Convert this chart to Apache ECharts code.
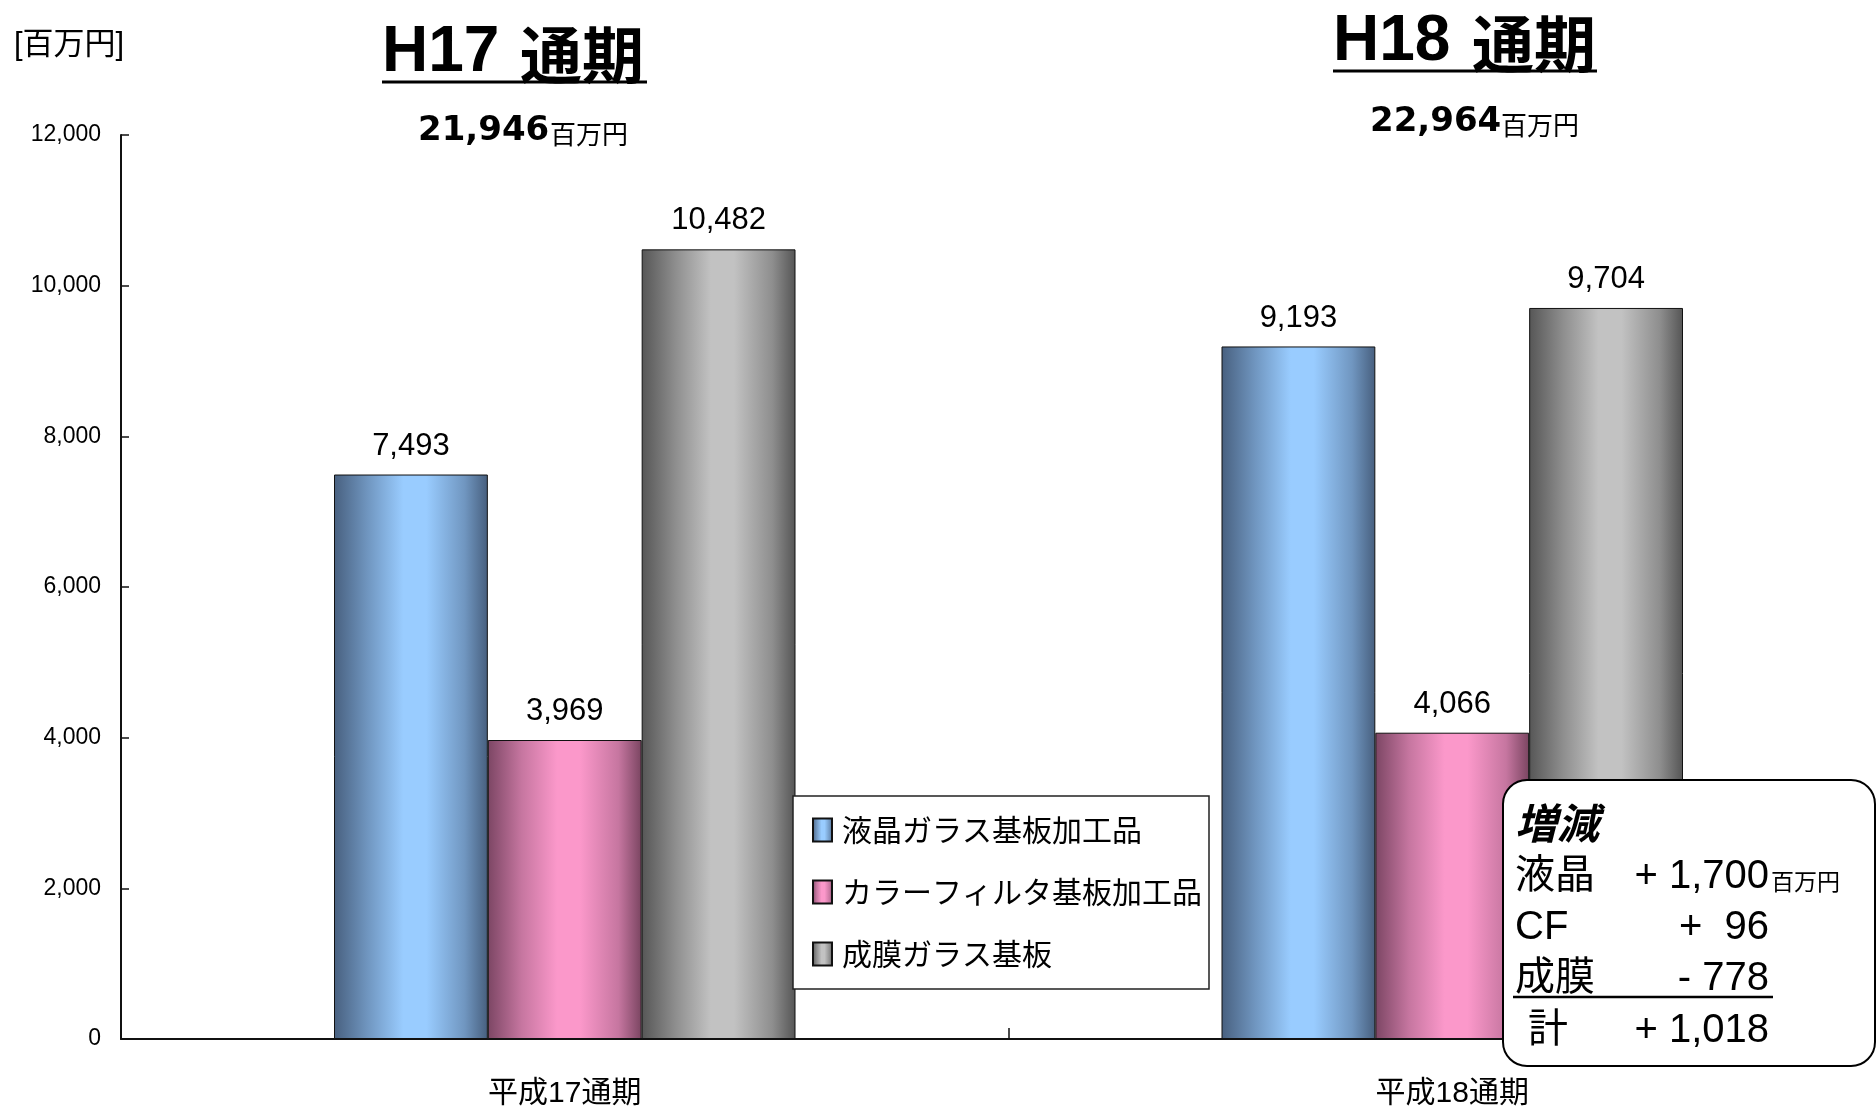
<!DOCTYPE html>
<html>
<head>
<meta charset="utf-8">
<title>売上高 H17 / H18</title>
<script src="https://cdn.jsdelivr.net/npm/echarts@6/dist/echarts.min.js"></script>
<style>
  html, body { margin: 0; padding: 0; background: #fff; }
  #chart { width: 1876px; height: 1111px; }
</style>
</head>
<body>
<div id="chart"></div>
<script>
// data
const categories = ['平成17通期', '平成18通期']
const seriesNames = ['液晶ガラス基板加工品', 'カラーフィルタ基板加工品', '成膜ガラス基板']
const lcdValues = [7493, 9193]
const cfValues = [3969, 4066]
const filmValues = [10482, 9704]
const yMin = 0
const yMax = 12000
const yStep = 2000
const periodTitles = ['H17', 'H18']
const periodTotals = ['21,946', '22,964']
const deltaLabels = ['液晶', 'CF', '成膜', '計']
const deltaValues = ['+ 1,700', '+  96', '- 778', '+ 1,018']

const SANS = "'Liberation Sans', Arial, 'Noto Sans CJK JP', sans-serif"
const CJK = "'Noto Sans CJK JP', sans-serif"

function barGradient(dark, mid, light, dark2) {
  return new echarts.graphic.LinearGradient(0, 0, 1, 0, [
    { offset: 0, color: dark },
    { offset: 0.22, color: mid },
    { offset: 0.45, color: light },
    { offset: 0.6, color: light },
    { offset: 0.85, color: mid },
    { offset: 1, color: dark2 }
  ])
}

const colors = [
  barGradient('#48607f', '#7096c0', '#99ccff', '#475f7e'),
  barGradient('#7c4664', '#c676a0', '#fb98ca', '#7a4561'),
  barGradient('#565656', '#8e8e8e', '#c2c2c2', '#555555')
]

function fmt(v) {
  return Number(v).toLocaleString('en-US')
}

function makeSeries(name, data, color) {
  return {
    name: name,
    type: 'bar',
    data: data,
    barGap: '0%',
    barCategoryGap: '48%',
    itemStyle: { color: color, borderColor: '#111', borderWidth: 1 },
    label: {
      show: true,
      position: 'top',
      distance: 13,
      formatter: p => fmt(p.value),
      fontFamily: SANS,
      fontSize: 31,
      color: '#000'
    }
  }
}

// titles, totals, legend frame and the change box
const titleX = [382, 1333]
const titleY = [53, 42]
const kanjiX = [520, 1472]
const lineEnd = [647, 1597]
const underY = [82, 71]
const totalX = [418, 1370]
const totalY = [131, 122]
const unitX = [550, 1501]

const graphics = []
periodTitles.forEach((t, i) => {
  graphics.push({
    type: 'text', x: titleX[i], y: titleY[i], z: 50,
    style: { text: t, font: 'bold 64px ' + SANS, fill: '#000', verticalAlign: 'middle' }
  })
  graphics.push({
    type: 'text', x: kanjiX[i], y: titleY[i] + 2, z: 50,
    style: { text: '通期', font: 'bold 62px ' + CJK, fill: '#000', verticalAlign: 'middle' }
  })
  graphics.push({
    type: 'line', z: 50,
    shape: { x1: titleX[i], y1: underY[i], x2: lineEnd[i], y2: underY[i] },
    style: { stroke: '#000', lineWidth: 3 }
  })
  graphics.push({
    type: 'text', x: totalX[i], y: totalY[i], z: 50,
    style: { text: periodTotals[i], font: "bold 34px 'DejaVu Sans', sans-serif", fill: '#000', verticalAlign: 'middle' }
  })
  graphics.push({
    type: 'text', x: unitX[i], y: totalY[i] + 3, z: 50,
    style: { text: '百万円', font: '26px ' + CJK, fill: '#000', verticalAlign: 'middle' }
  })
})

graphics.push({
  type: 'text', x: 14, y: 45, z: 50,
  style: { text: '[百万円]', font: '31px ' + SANS, fill: '#000', verticalAlign: 'middle' }
})

// legend frame
graphics.push({
  type: 'rect', z: 3,
  shape: { x: 793, y: 796, width: 416, height: 193 },
  style: { fill: '#fff', stroke: '#222', lineWidth: 1.5 }
})

// change box
graphics.push({
  type: 'rect', z: 100,
  shape: { x: 1503, y: 780, width: 372, height: 286, r: 24 },
  style: { fill: '#fff', stroke: '#000', lineWidth: 2 }
})
graphics.push({
  type: 'text', x: 1515, y: 823, z: 101,
  style: { text: '増減', font: 'italic bold 42px ' + CJK, fill: '#000', verticalAlign: 'middle' }
})
const rowY = [877, 928, 979, 1031]
const labelX = [1515, 1515, 1515, 1528]
deltaLabels.forEach((t, i) => {
  graphics.push({
    type: 'text', x: labelX[i], y: rowY[i], z: 101,
    style: { text: t, font: '40px ' + SANS, fill: '#000', verticalAlign: 'middle' }
  })
  graphics.push({
    type: 'text', x: 1769, y: rowY[i], z: 101,
    style: { text: deltaValues[i], font: '40px ' + SANS, fill: '#000', align: 'right', verticalAlign: 'middle' }
  })
})
graphics.push({
  type: 'text', x: 1771, y: 881, z: 101,
  style: { text: '百万円', font: '23px ' + CJK, fill: '#000', verticalAlign: 'middle' }
})
graphics.push({
  type: 'line', z: 101,
  shape: { x1: 1513, y1: 997, x2: 1773, y2: 997 },
  style: { stroke: '#000', lineWidth: 2.5 }
})

const option = {
  backgroundColor: '#fff',
  animation: false,
  grid: {
    left: 121,
    top: 135,
    width: 1775,
    height: 904,
    outerBoundsMode: 'none',
    containLabel: false
  },
  legend: {
    data: seriesNames,
    orient: 'vertical',
    left: 812,
    top: 815,
    z: 10,
    padding: 0,
    icon: 'rect',
    itemWidth: 19,
    itemHeight: 23,
    itemGap: 32,
    selectedMode: false,
    textStyle: {
      fontFamily: CJK,
      fontSize: 30,
      lineHeight: 30,
      color: '#000',
      padding: [0, 0, 0, 5]
    }
  },
  xAxis: {
    type: 'category',
    data: categories,
    axisLine: { lineStyle: { color: '#111', width: 2 } },
    axisTick: { show: true, inside: true, length: 11, alignWithLabel: false, lineStyle: { color: '#111', width: 1.5 } },
    axisLabel: { fontFamily: SANS, fontSize: 30, color: '#000', margin: 40 },
    splitLine: { show: false }
  },
  yAxis: {
    type: 'value',
    min: yMin,
    max: yMax,
    interval: yStep,
    axisLine: { show: true, lineStyle: { color: '#111', width: 2 } },
    axisTick: { show: true, inside: true, length: 8, lineStyle: { color: '#111', width: 1.5 } },
    axisLabel: { formatter: v => fmt(v), fontFamily: SANS, fontSize: 23, color: '#000', margin: 20 },
    splitLine: { show: false }
  },
  series: [
    makeSeries(seriesNames[0], lcdValues, colors[0]),
    makeSeries(seriesNames[1], cfValues, colors[1]),
    makeSeries(seriesNames[2], filmValues, colors[2])
  ],
  graphic: graphics
}

const chart = echarts.init(document.getElementById('chart'))
chart.setOption(option)
</script>
</body>
</html>
